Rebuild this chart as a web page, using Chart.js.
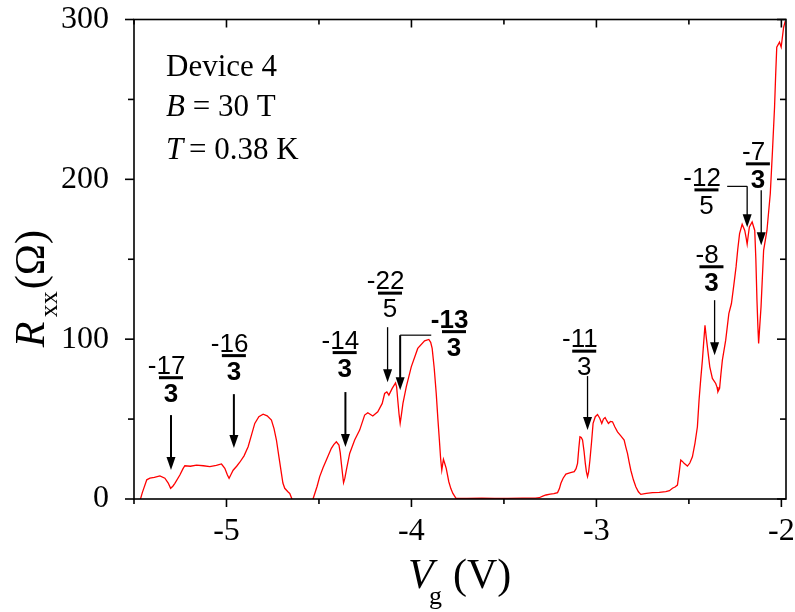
<!DOCTYPE html>
<html>
<head>
<meta charset="utf-8">
<script src="https://cdn.jsdelivr.net/npm/chart.js@4.4.0/dist/chart.umd.min.js"></script>
<style>
  html, body { margin: 0; padding: 0; background: #fff; }
  canvas { display: block; }
</style>
</head>
<body>
<canvas id="rxxChart" width="795" height="612"></canvas>
<script>
// Rxx trace (negative values = trace drops below the axis)
const vg = [
  -5.475, -5.455, -5.431, -5.414, -5.39, -5.36, -5.333, -5.315, -5.302, -5.29, -5.279, -5.252, -5.235, -5.225,
  -5.195, -5.162, -5.125, -5.09, -5.055, -5.027, -5.009, -4.995, -4.986, -4.975, -4.964, -4.945, -4.928, -4.905,
  -4.883, -4.865, -4.847, -4.825, -4.802, -4.78, -4.757, -4.743, -4.73, -4.716, -4.703, -4.695, -4.685, -4.668,
  -4.658, -4.646, -4.635,
  -4.545, -4.532, -4.51, -4.496, -4.478, -4.46, -4.433, -4.42, -4.406, -4.392, -4.385, -4.379, -4.372, -4.367,
  -4.36, -4.352, -4.334, -4.307, -4.28, -4.253, -4.236, -4.209, -4.182, -4.158, -4.145, -4.133, -4.122, -4.104,
  -4.086, -4.08, -4.074, -4.067, -4.061, -4.054, -4.046, -4.028, -4.001, -3.966, -3.929, -3.906, -3.896, -3.888,
  -3.877, -3.866, -3.857, -3.849, -3.842, -3.836, -3.831, -3.827, -3.822, -3.812, -3.798, -3.787, -3.776, -3.759,
  -3.70, -3.62, -3.55, -3.48, -3.40, -3.33, -3.309, -3.29, -3.273, -3.25, -3.23, -3.21, -3.2, -3.192, -3.18,
  -3.165, -3.14, -3.12, -3.11, -3.102, -3.095, -3.089, -3.082, -3.075, -3.067, -3.06, -3.054, -3.048, -3.042,
  -3.035, -3.026, -3.018, -3.006, -2.994, -2.982, -2.971, -2.962, -2.953, -2.944, -2.935, -2.924, -2.913, -2.9,
  -2.886, -2.868, -2.85, -2.841, -2.832, -2.823, -2.814, -2.8, -2.787, -2.773, -2.76, -2.73, -2.697, -2.66,
  -2.625, -2.605, -2.589, -2.575, -2.562, -2.553, -2.544, -2.535, -2.526, -2.508, -2.495, -2.481, -2.467, -2.454,
  -2.445, -2.436, -2.427, -2.42, -2.413, -2.406, -2.4, -2.387, -2.373, -2.355, -2.348, -2.343, -2.334, -2.327,
  -2.319, -2.301, -2.284, -2.27, -2.258, -2.245, -2.236, -2.226, -2.212, -2.198, -2.19, -2.185, -2.179, -2.173,
  -2.158, -2.144, -2.138, -2.132, -2.127, -2.123, -2.117, -2.11, -2.103, -2.096, -2.078, -2.06, -2.048, -2.037,
  -2.031, -2.025, -2.01, -2.001, -1.988, -1.979
];
const rxx = [
  -4, 4, 12, 13, 13.5, 14.4, 13, 10, 6.7, 8, 9.8, 15, 19, 20.8,
  20.5, 21.2, 20.8, 20.2, 21, 21.9, 19.2, 15, 13, 15.5, 18, 20.5, 23, 27,
  32.7, 40, 47.3, 51.5, 53.1, 52, 49.4, 44, 36.9, 26, 16, 10, 6.7, 4.5,
  3.5, 0, -10,
  -10, 0, 8, 14, 19.5, 24.4, 31.7, 34, 35.8, 33.8, 29, 22.3, 15, 10.2,
  13, 18, 28.5, 36.9, 43.1, 52.5, 54, 51.9, 54.6, 59.8, 66, 67, 65, 69.2,
  72.7, 70, 61.9, 53, 47.3, 53, 59.8, 70.2, 82.7, 94.2, 98.9, 99.8, 98, 94.2,
  82, 66, 50, 36.9, 25, 18, 22, 24.8, 23, 19.2, 10.8, 6.5, 3.5, 0.4,
  0.3, 0.5, 0.3, 0.4, 0.5, 0.6, 0.8, 1.8, 2.5, 3, 3.3, 4, 6.5, 9.8, 13,
  15.6, 16.5, 17.1, 19, 22.3, 32, 38.9, 38.5, 36.9, 30, 22.3, 17, 14, 17,
  24.4, 36, 47.3, 51.5, 52.9, 50.5, 47.3, 50, 51, 49, 47.3, 48.5, 48.3, 45,
  42, 39.5, 36.9, 32.5, 28.5, 23, 18, 12, 7.7, 4.5, 2.9, 3.5, 4, 4.2,
  4.6, 5.2, 6.7, 7.5, 8.7, 16, 24.4, 23.5, 22.3, 20.6, 22.5, 26.4, 35, 45.2,
  61.9, 75, 86.9, 98, 108.7, 101, 95.2, 82.7, 75.4, 72.3, 70, 67.1, 69.2, 78,
  86.9, 99.4, 116, 122.3, 133, 145.2, 156, 166, 171.9, 168, 163, 159.4, 165, 170.2,
  173.3, 168, 150, 124.4, 108, 97.3, 108, 120.2, 138, 155.6, 168, 191, 218, 245,
  265, 282.7, 285.8, 282.7, 295, 299
];

const xTicks = [-5, -4, -3, -2];
const xMinorTicks = [-5.5, -4.5, -3.5, -2.5];
const yTicks = [0, 100, 200, 300];
const yMinorTicks = [50, 150, 250];

// filling-factor labels: fraction bar centre and arrow, in (Vg, Rxx) units
const fracNum = ['-17', '-16', '-14', '-22', '-13', '-11', '-8', '-12', '-7'];
const fracDen = ['3', '3', '3', '5', '3', '3', '3', '5', '3'];
const fracVg = [-5.300, -4.960, -4.361, -4.116, -3.770, -3.066, -2.378, -2.405, -2.127];
const fracR = [75.9, 89.7, 91.6, 128.8, 104.7, 92.5, 145.3, 193.4, 209.7];
const arrowVg = [-5.300, -4.960, -4.357, -4.129, -4.061, -3.048, -2.361, -2.185, -2.109];
const arrowFrom = [52.5, 65.6, 66.9, 107.5, 102.5, 76.9, 124.4, 195.6, 193.1];
const arrowTo = [18.1, 31.9, 32.5, 73.1, 68.1, 43.1, 90, 170, 158.8];
const leaderVg = [null, null, null, null, -3.893, null, null, -2.293, null];

const heavy = [true, true, true, false, true, false, false, false, false];
const boldNum = [false, false, false, false, true, false, false, false, false];
const boldDen = [true, true, true, false, true, false, true, false, true];

const serif = '"Liberation Serif", "Times New Roman", serif';
const sans = '"Liberation Sans", Arial, sans-serif';

function drawArrow(ctx, px, y1, y2, w) {
    ctx.lineWidth = w;
    ctx.beginPath();
    ctx.moveTo(px, y1);
    ctx.lineTo(px, y2 - 10);
    ctx.stroke();
    ctx.beginPath();
    ctx.moveTo(px - 4.5, y2 - 13);
    ctx.lineTo(px + 4.5, y2 - 13);
    ctx.lineTo(px, y2);
    ctx.closePath();
    ctx.fill();
}

function drawFraction(ctx, cx, cy, num, den, bNum, bDen) {
    ctx.textBaseline = 'alphabetic';
    ctx.font = (bNum ? 'bold ' : '') + '26px ' + sans;
    const digits = num.replace('-', '');
    const dw = ctx.measureText(digits).width;
    const mw = ctx.measureText('-').width;
    ctx.textAlign = 'left';
    ctx.fillText(num, cx - dw / 2 - mw, cy - 4);
    ctx.fillRect(cx - 12, cy - 1.5, 24, 3);
    ctx.font = (bDen ? 'bold ' : '') + '26px ' + sans;
    ctx.textAlign = 'center';
    ctx.fillText(den, cx, cy + 24);
}

const decorations = {
    id: 'decorations',
    afterDatasetsDraw(chart) {
        const { ctx, chartArea: a, scales: { x, y } } = chart;
        ctx.save();
        ctx.strokeStyle = '#000';
        ctx.fillStyle = '#000';

        // frame with ticks (outside on left/bottom, inside on top/right)
        ctx.lineWidth = 1.6;
        ctx.strokeRect(a.left, a.top, a.right - a.left, a.bottom - a.top);
        const seg = (x1, y1, x2, y2) => {
            ctx.beginPath();
            ctx.moveTo(x1, y1);
            ctx.lineTo(x2, y2);
            ctx.stroke();
        };
        xTicks.forEach(v => {
            const px = x.getPixelForValue(v);
            seg(px, a.bottom, px, a.bottom + 8);
            seg(px, a.top, px, a.top + 8);
        });
        xMinorTicks.forEach(v => {
            const px = x.getPixelForValue(v);
            seg(px, a.bottom, px, a.bottom + 5);
            seg(px, a.top, px, a.top + 5);
        });
        yTicks.forEach(v => {
            const py = y.getPixelForValue(v);
            seg(a.left - 9, py, a.left, py);
            seg(a.right, py, a.right - 9, py);
        });
        yMinorTicks.forEach(v => {
            const py = y.getPixelForValue(v);
            seg(a.left - 6, py, a.left, py);
            seg(a.right, py, a.right - 6, py);
        });

        // fraction labels and arrows
        fracNum.forEach((num, i) => {
            const ax = x.getPixelForValue(arrowVg[i]);
            const y1 = y.getPixelForValue(arrowFrom[i]);
            const y2 = y.getPixelForValue(arrowTo[i]);
            if (leaderVg[i] !== null) {
                ctx.lineWidth = 1.2;
                seg(x.getPixelForValue(leaderVg[i]), y1, ax, y1);
            }
            drawArrow(ctx, ax, y1, y2, heavy[i] ? 2 : 1.3);
            drawFraction(ctx, x.getPixelForValue(fracVg[i]), y.getPixelForValue(fracR[i]),
                num, fracDen[i], boldNum[i], boldDen[i]);
        });

        // sample info
        const tx = a.left + 32;
        ctx.textAlign = 'left';
        ctx.textBaseline = 'alphabetic';
        ctx.font = '31px ' + serif;
        ctx.fillText('Device 4', tx, a.top + 56);
        ctx.font = 'italic 31px ' + serif;
        ctx.fillText('B', tx, a.top + 96);
        let w = ctx.measureText('B').width;
        ctx.font = '31px ' + serif;
        ctx.fillText(' = 30 T', tx + w, a.top + 96);
        ctx.font = 'italic 31px ' + serif;
        ctx.fillText('T', tx, a.top + 139);
        w = ctx.measureText('T').width;
        ctx.font = '31px ' + serif;
        ctx.fillText(' = 0.38 K', tx + w - 2, a.top + 139);

        // x axis title: Vg (V)
        const cx = (a.left + a.right) / 2;
        const by = a.bottom + 89;
        ctx.font = 'italic 42px ' + serif;
        ctx.fillText('V', cx - 52, by);
        ctx.font = '26px ' + serif;
        ctx.fillText('g', cx - 31, by + 16);
        ctx.font = '42px ' + serif;
        ctx.fillText('(V)', cx - 7, by);

        // y axis title: Rxx (Ω), rotated
        const cy = (a.top + a.bottom) / 2;
        ctx.translate(44, cy);
        ctx.rotate(-Math.PI / 2);
        ctx.font = 'italic 42px ' + serif;
        ctx.fillText('R', -88, 0);
        ctx.font = '26px ' + serif;
        ctx.fillText('xx', -58, 13);
        ctx.font = '42px ' + serif;
        ctx.fillText('(Ω)', -30, 0);
        ctx.restore();
    }
};

const ctx = document.getElementById('rxxChart').getContext('2d');
const chart = new Chart(ctx, {
    type: 'line',
    data: {
        datasets: [{
            label: 'Rxx',
            data: vg.map((v, i) => ({ x: v, y: rxx[i] })),
            borderColor: '#ff0000',
            borderWidth: 1.3,
            pointRadius: 0,
            fill: false,
            tension: 0
        }]
    },
    options: {
        responsive: false,
        devicePixelRatio: 1,
        animation: false,
        layout: { padding: { top: 19.5, right: 9, left: 0, bottom: 0 } },
        plugins: {
            legend: { display: false },
            tooltip: { enabled: false }
        },
        scales: {
            x: {
                type: 'linear',
                min: -5.5,
                max: -1.975,
                grid: { display: false },
                border: { display: false },
                afterBuildTicks: s => { s.ticks = xTicks.map(v => ({ value: v })); },
                afterFit: s => { s.height = 113; s.paddingLeft = 0; s.paddingRight = 0; },
                ticks: {
                    color: '#000',
                    padding: 5,
                    maxRotation: 0,
                    autoSkip: false,
                    font: { family: serif, size: 32 },
                    callback: v => String(v)
                }
            },
            y: {
                min: 0,
                max: 300,
                grid: { display: false },
                border: { display: false },
                afterBuildTicks: s => { s.ticks = yTicks.map(v => ({ value: v })); },
                afterFit: s => { s.width = 134; s.paddingTop = 0; s.paddingBottom = 0; },
                ticks: {
                    color: '#000',
                    padding: 17,
                    font: { family: serif, size: 32 },
                    callback: v => String(v)
                }
            }
        }
    },
    plugins: [decorations]
});
</script>
</body>
</html>
